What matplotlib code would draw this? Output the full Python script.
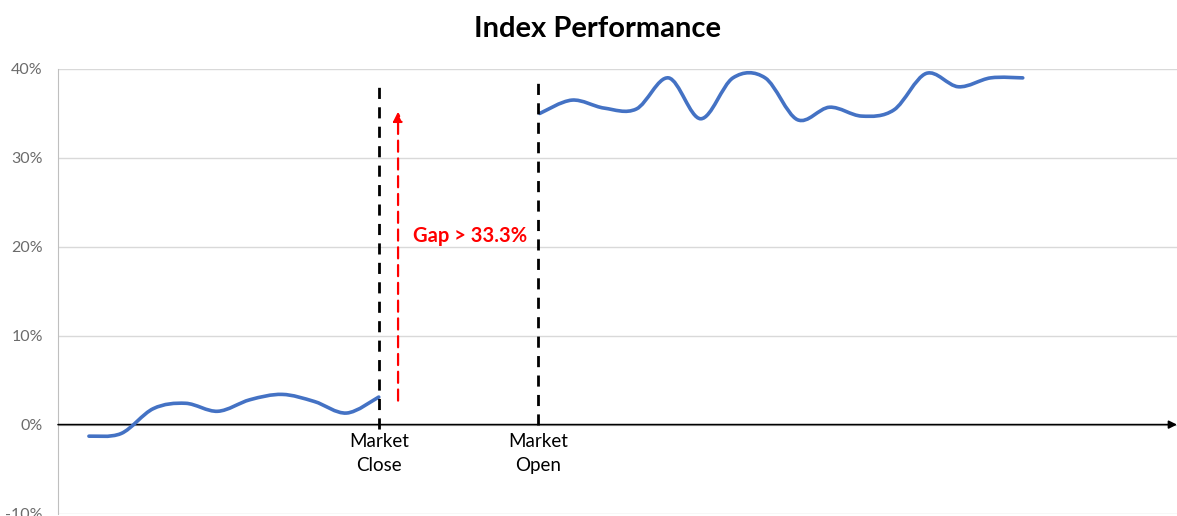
import numpy as np
import matplotlib.pyplot as plt
from matplotlib.path import Path
from matplotlib.patches import PathPatch

plt.rcParams['font.family'] = ['Lato', 'DejaVu Sans']

# Datos (índice de categoría -> rendimiento)
pre_x = [0, 1, 2, 3, 4, 5, 6, 7, 8, 9]
pre_y = [-0.013, -0.010, 0.018, 0.024, 0.015, 0.028, 0.034, 0.026, 0.013, 0.031]
post_x = list(range(14, 30))
post_y = [0.350, 0.365, 0.356, 0.355, 0.390, 0.344, 0.390, 0.390,
          0.343, 0.357, 0.347, 0.354, 0.395, 0.380, 0.390, 0.390]
close_x, open_x = 9, 13.95
close_span = (-0.005, 0.383)
open_span = (0.0, 0.392)
gap_x = 9.6
gap_span = (0.027, 0.352)
yticks = [-0.1, 0.0, 0.1, 0.2, 0.3, 0.4]
blue = '#4472C4'


def smooth_path(xs, ys):
    # curva tipo Excel (Catmull-Rom convertido a Bezier cúbico)
    pts = np.column_stack([xs, ys])
    verts = [pts[0]]
    codes = [Path.MOVETO]
    n = len(pts)
    for i in range(n - 1):
        p0 = pts[max(i - 1, 0)]
        p1, p2 = pts[i], pts[i + 1]
        p3 = pts[min(i + 2, n - 1)]
        c1 = p1 + (p2 - p0) / 6
        c2 = p2 - (p3 - p1) / 6
        verts += [c1, c2, p2]
        codes += [Path.CURVE4] * 3
    return Path(verts, codes)


fig = plt.figure(figsize=(11.77, 5.16), dpi=100)
ax = fig.add_axes([0.0493, 0.0048, 0.9507, 0.8615])
ax.set_xlim(-0.96, 33.79)
ax.set_ylim(-0.10, 0.40)

for xs, ys in [(pre_x, pre_y), (post_x, post_y)]:
    ax.add_patch(PathPatch(smooth_path(xs, ys), fill=False, edgecolor=blue,
                           lw=2.6, capstyle='round', joinstyle='round', zorder=4))

ax.set_yticks(yticks)
ax.set_yticklabels([f'{int(round(v * 100))}%' for v in yticks],
                   color='#6b6b6b', fontsize=11.5)
ax.set_xticks([])
ax.tick_params(axis='y', length=0, pad=11)
ax.grid(axis='y', color='#d9d9d9', lw=1)
ax.set_axisbelow(True)
for s in ['top', 'right', 'bottom']:
    ax.spines[s].set_visible(False)
ax.spines['left'].set_color('#bfbfbf')

# eje x en 0 con flecha
ax.annotate('', xy=(1.0, 0), xycoords=('axes fraction', 'data'),
            xytext=(0.0, 0), textcoords=('axes fraction', 'data'),
            arrowprops=dict(arrowstyle='-|>', color='black', lw=1.2,
                            mutation_scale=12, shrinkA=0, shrinkB=0),
            annotation_clip=False, zorder=3)

# líneas de cierre / apertura
ax.plot([close_x, close_x], close_span, color='black', ls=(0, (4, 3)), lw=2, zorder=5)
ax.plot([open_x, open_x], open_span, color='black', ls=(0, (4, 3)), lw=2, zorder=5)
ax.text(close_x, -0.009, 'Market\nClose', ha='center', va='top', fontsize=13.5,
        linespacing=1.5)
ax.text(open_x, -0.009, 'Market\nOpen', ha='center', va='top', fontsize=13.5,
        linespacing=1.5)

# flecha del gap
ax.annotate('', xy=(gap_x, gap_span[1]), xytext=(gap_x, gap_span[0]),
            arrowprops=dict(arrowstyle='-|>', color='red', lw=1.6, ls=(0, (5, 3)),
                            mutation_scale=14, shrinkA=0, shrinkB=0), zorder=5)
ax.text(10.05, 0.212, 'Gap > 33.3%', color='red', fontweight='bold',
        fontsize=14.5, ha='left', va='center')

fig.text(0.508, 0.943, 'Index Performance', ha='center', va='center',
         fontsize=21, fontweight='bold')

fig.savefig('out.png', dpi=100)
